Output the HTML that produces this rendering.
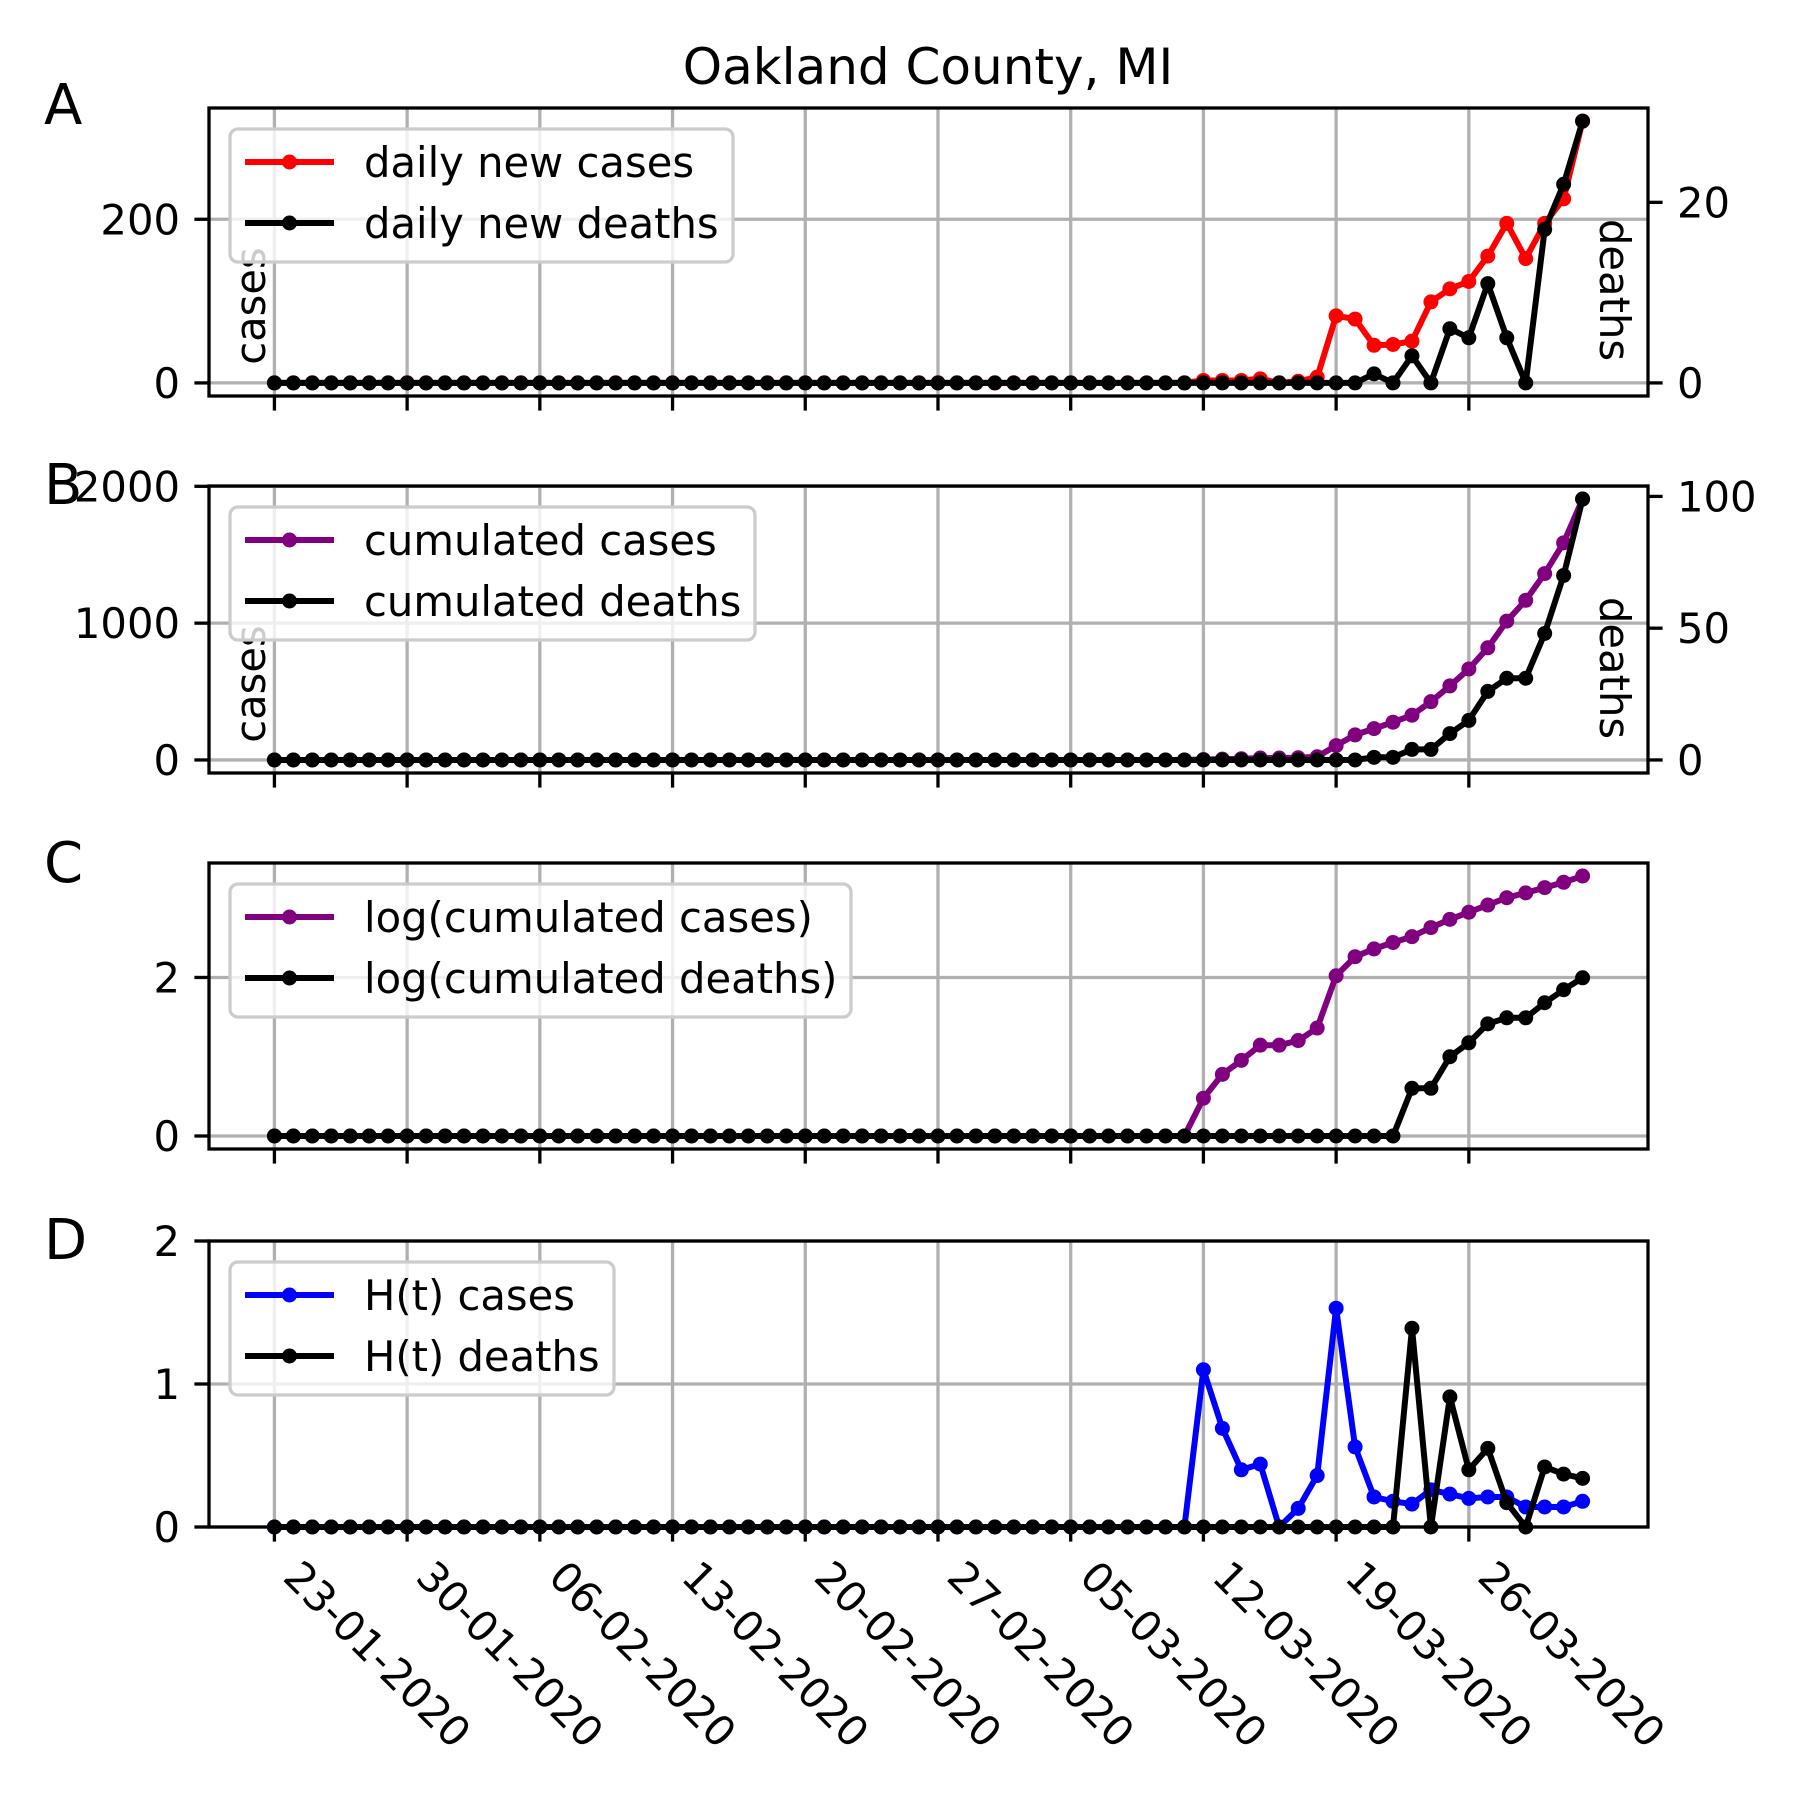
<!DOCTYPE html>
<html><head><meta charset="utf-8"><style>
html,body{margin:0;padding:0;background:#fff}
svg{display:block;font-family:"DejaVu Sans","Liberation Sans",sans-serif}
</style></head><body>
<svg id="fig" width="1800" height="1800" viewBox="0 0 1800 1800" xmlns="http://www.w3.org/2000/svg">
<rect width="1800" height="1800" fill="#fff"/>
<text x="928" y="84" font-size="50" text-anchor="middle">Oakland County, MI</text>
</svg>
<script>
const dateLabels = ["23-01-2020","30-01-2020","06-02-2020","13-02-2020","20-02-2020","27-02-2020","05-03-2020","12-03-2020","19-03-2020","26-03-2020"];
const dateTickIdx = [0,7,14,21,28,35,42,49,56,63];
const dailyCases = [0,0,0,0,0,0,0,0,0,0, 0,0,0,0,0,0,0,0,0,0, 0,0,0,0,0,0,0,0,0,0, 0,0,0,0,0,0,0,0,0,0, 0,0,0,0,0,0,0,0,0,
 3,3,3,5,0,2,7,82,78,46,47,51,99,115,124,155,195,152,195,225,320];
const dailyDeaths = [0,0,0,0,0,0,0,0,0,0, 0,0,0,0,0,0,0,0,0,0, 0,0,0,0,0,0,0,0,0,0, 0,0,0,0,0,0,0,0,0,0, 0,0,0,0,0,0,0,0,0,0, 0,0,0,0,0,0,0,0,
 1,0,3,0,6,5,11,5,0,17,22,29];
const cumCases = [0,0,0,0,0,0,0,0,0,0, 0,0,0,0,0,0,0,0,0,0, 0,0,0,0,0,0,0,0,0,0, 0,0,0,0,0,0,0,0,0,0, 0,0,0,0,0,0,0,0,0,
 3,6,9,14,14,16,23,105,183,229,276,327,426,541,665,820,1015,1167,1362,1587,1907];
const cumDeaths = [0,0,0,0,0,0,0,0,0,0, 0,0,0,0,0,0,0,0,0,0, 0,0,0,0,0,0,0,0,0,0, 0,0,0,0,0,0,0,0,0,0, 0,0,0,0,0,0,0,0,0,0, 0,0,0,0,0,0,0,0,
 1,1,4,4,10,15,26,31,31,48,70,99];
const logCases = [0,0,0,0,0,0,0,0,0,0, 0,0,0,0,0,0,0,0,0,0, 0,0,0,0,0,0,0,0,0,0, 0,0,0,0,0,0,0,0,0,0, 0,0,0,0,0,0,0,0,0,
 0.477,0.778,0.954,1.146,1.146,1.204,1.362,2.021,2.262,2.360,2.441,2.515,2.629,2.733,2.823,2.914,3.006,3.067,3.134,3.201,3.280];
const logDeaths = [0,0,0,0,0,0,0,0,0,0, 0,0,0,0,0,0,0,0,0,0, 0,0,0,0,0,0,0,0,0,0, 0,0,0,0,0,0,0,0,0,0, 0,0,0,0,0,0,0,0,0,0, 0,0,0,0,0,0,0,0,0,0,
 0.602,0.602,1.0,1.176,1.415,1.491,1.491,1.681,1.845,1.996];
const hCases = [0,0,0,0,0,0,0,0,0,0, 0,0,0,0,0,0,0,0,0,0, 0,0,0,0,0,0,0,0,0,0, 0,0,0,0,0,0,0,0,0,0, 0,0,0,0,0,0,0,0,0,
 1.10,0.69,0.40,0.44,0,0.13,0.36,1.53,0.56,0.21,0.18,0.16,0.26,0.23,0.20,0.21,0.21,0.14,0.14,0.14,0.18];
const hDeaths = [0,0,0,0,0,0,0,0,0,0, 0,0,0,0,0,0,0,0,0,0, 0,0,0,0,0,0,0,0,0,0, 0,0,0,0,0,0,0,0,0,0, 0,0,0,0,0,0,0,0,0,0, 0,0,0,0,0,0,0,0,0,0,
 1.39,0,0.91,0.40,0.55,0.17,0,0.42,0.37,0.34];

const NS="http://www.w3.org/2000/svg";
const svg=document.getElementById('fig');
function mk(tag,attrs,parent){const e=document.createElementNS(NS,tag);for(const k in attrs)e.setAttribute(k,attrs[k]);(parent||svg).appendChild(e);return e;}
const L=209,R=1648,XMIN=-3.45,XMAX=72.45;
function xs(i){return L+(i-XMIN)/(XMAX-XMIN)*(R-L);}

function panel(cfg){
  const g=mk('g',{});
  
  
  const T=cfg.top,B=cfg.bot;
  const yl=v=>B-(v-cfg.lmin)/(cfg.lmax-cfg.lmin)*(B-T);
  const yr=cfg.rmax!==undefined?(v=>B-(v-cfg.rmin)/(cfg.rmax-cfg.rmin)*(B-T)):null;
  dateTickIdx.forEach(i=>{const l=mk('line',{x1:xs(i),x2:xs(i),y1:T,y2:B,stroke:'#b0b0b0','stroke-width':3.3},g);
    
    });
  cfg.lticks.forEach(v=>{const l=mk('line',{x1:L,x2:R,y1:yl(v),y2:yl(v),stroke:'#b0b0b0','stroke-width':3.3},g);
    
    });
  if(cfg.lylabel){const t=mk('text',{x:0,y:0,'font-size':41.7,'text-anchor':'middle',transform:`translate(265,${cfg.lylabelY}) rotate(-90)`},g);t.textContent=cfg.lylabel;
    
    }
  if(cfg.rylabel){const t=mk('text',{x:0,y:0,'font-size':41.7,'text-anchor':'middle',transform:`translate(1600,${cfg.rylabelY}) rotate(90)`},g);t.textContent=cfg.rylabel;
    
    }
  cfg.series.forEach(s=>{
    const ys=s.right?yr:yl;
    const pts=s.data.map((v,i)=>xs(i).toFixed(1)+','+ys(v).toFixed(1)).join(' ');
    const sg=mk('g',{},g);
    
    
    mk('polyline',{points:pts,fill:'none',stroke:s.color,'stroke-width':6,'stroke-linejoin':'round'},sg);
    s.data.forEach((v,i)=>{const c=mk('circle',{cx:xs(i),cy:ys(v),r:7.5,fill:s.color},sg);
      
      });
  });
  const sp=mk('rect',{x:L,y:T,width:R-L,height:B-T,fill:'none',stroke:'#000','stroke-width':3.3},g);
  
  
  dateTickIdx.forEach(i=>{mk('line',{x1:xs(i),x2:xs(i),y1:B,y2:B+14.6,stroke:'#000','stroke-width':3.3},g);});
  cfg.lticks.forEach((v,k)=>{mk('line',{x1:L-14.6,x2:L,y1:yl(v),y2:yl(v),stroke:'#000','stroke-width':3.3},g);
    const t=mk('text',{x:L-29,y:yl(v)+15,'font-size':41.7,'text-anchor':'end'},g);t.textContent=cfg.lticklabels[k];
    
    });
  if(yr){cfg.rticks.forEach(v=>{mk('line',{x1:R,x2:R+14.6,y1:yr(v),y2:yr(v),stroke:'#000','stroke-width':3.3},g);
    const t=mk('text',{x:R+29,y:yr(v)+15,'font-size':41.7},g);t.textContent=String(v);
    
    });}
  const lg=mk('g',{},g);
  
  
  mk('rect',{x:230,y:cfg.legY,width:cfg.legW,height:133,rx:8,fill:'#fff','fill-opacity':0.8,stroke:'#cccccc','stroke-width':3.3},lg);
  cfg.series.forEach((s,k)=>{const yy=cfg.legY+33+k*61;
    mk('line',{x1:245,x2:334,y1:yy,y2:yy,stroke:s.color,'stroke-width':6},lg);
    mk('circle',{cx:289.5,cy:yy,r:7.5,fill:s.color},lg);
    const t=mk('text',{x:364,y:yy+15,'font-size':41.7},lg);t.textContent=s.label;
    
    });
  const lt=mk('text',{x:44,y:cfg.letterY,'font-size':56},g);lt.textContent=cfg.letter;
  
  
}

panel({name:'panel-a-daily',top:108,bot:396,lmin:-16,lmax:336,rmin:-1.45,rmax:30.45,lticks:[0,200],lticklabels:['0','200'],rticks:[0,20],
  lylabel:'cases',lylabelY:306,rylabel:'deaths',rylabelY:290,legY:129,legW:503,letter:'A',letterY:124,
  series:[{name:'daily-cases-series',label:'daily new cases',color:'#ff0000',data:dailyCases},{name:'daily-deaths-series',label:'daily new deaths',color:'#000',data:dailyDeaths,right:true}]});
panel({name:'panel-b-cumulated',top:486,bot:773,lmin:-95.35,lmax:2002.35,rmin:-4.95,rmax:103.95,lticks:[0,1000,2000],lticklabels:['0','1000','2000'],rticks:[0,50,100],
  lylabel:'cases',lylabelY:684,rylabel:'deaths',rylabelY:668,legY:507,legW:525,letter:'B',letterY:504,
  series:[{name:'cumulated-cases-series',label:'cumulated cases',color:'#800080',data:cumCases},{name:'cumulated-deaths-series',label:'cumulated deaths',color:'#000',data:cumDeaths,right:true}]});
panel({name:'panel-c-log',top:863,bot:1149,lmin:-0.164,lmax:3.444,lticks:[0,2],lticklabels:['0','2'],
  legY:884,legW:621,letter:'C',letterY:882,
  series:[{name:'log-cases-series',label:'log(cumulated cases)',color:'#800080',data:logCases},{name:'log-deaths-series',label:'log(cumulated deaths)',color:'#000',data:logDeaths}]});
panel({name:'panel-d-h',top:1241,bot:1527,lmin:0,lmax:2,lticks:[0,1,2],lticklabels:['0','1','2'],
  legY:1262,legW:384,letter:'D',letterY:1259,
  series:[{name:'h-cases-series',label:'H(t) cases',color:'#0000ff',data:hCases},{name:'h-deaths-series',label:'H(t) deaths',color:'#000',data:hDeaths}]});

dateLabels.forEach((d,k)=>{
  const x=xs(dateTickIdx[k])+7;
  const t=mk('text',{x:0,y:0,'font-size':41.7,transform:`translate(${x.toFixed(1)},1579) rotate(45)`});
  t.textContent=d;
  
  
});
</script>
</body></html>
